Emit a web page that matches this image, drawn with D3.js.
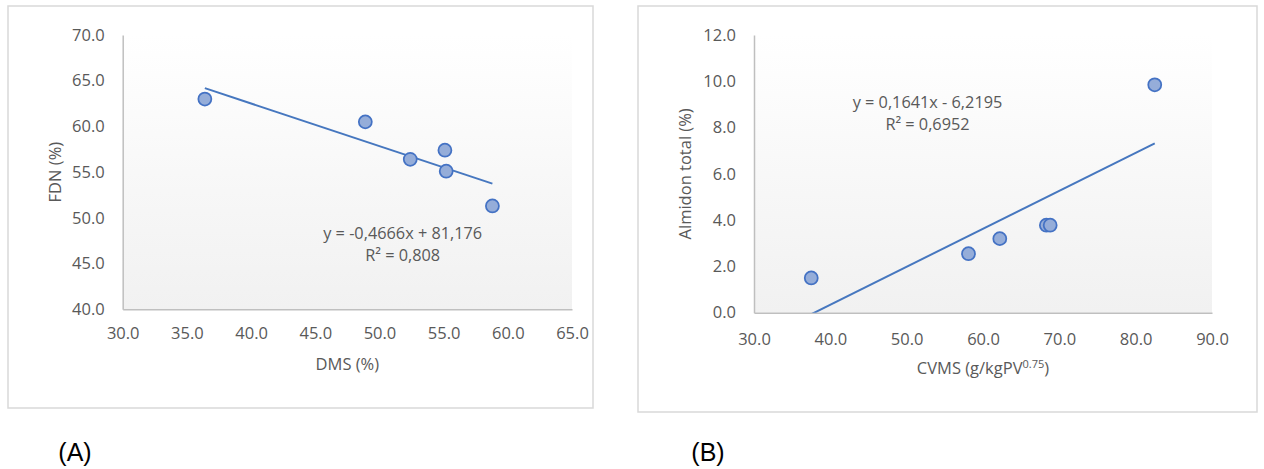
<!DOCTYPE html>
<html lang="es">
<head>
<meta charset="UTF-8">
<title>DMS / CVMS scatter</title>
<script src="https://d3js.org/d3.v7.min.js"></script>
<style>
  body { margin: 0; background: #fff; }
  .tick text { font-family: "Open Sans", sans-serif; font-size: 16.5px; fill: #595959; }
  .axis .domain { stroke: #bfbfbf; stroke-width: 1.5px; }
  .title { font-family: "Open Sans", sans-serif; font-size: 16.5px; fill: #595959; }
  .eq { font-family: "Open Sans", sans-serif; font-size: 16.3px; fill: #595959; }
  .tag { font-family: "Liberation Sans", Arial, sans-serif; font-size: 25px; fill: #000; }
</style>
</head>
<body>
<svg id="chart" width="1264" height="469"></svg>
<script>
// Panel A: DMS vs FDN
const dmsValues = [36.4, 48.9, 52.4, 55.1, 55.2, 58.8];
const fdnValues = [63.0, 60.5, 56.4, 57.4, 55.1, 51.3];
const trendA = [-0.4666, 81.176];           // slope, intercept
const xTicksA = [30, 35, 40, 45, 50, 55, 60, 65];
const yTicksA = [40, 45, 50, 55, 60, 65, 70];
const eqLinesA = ["y = -0,4666x + 81,176", "R² = 0,808"];

// Panel B: CVMS vs Almidon total
const cvmsValues = [37.5, 58.1, 62.2, 68.3, 68.8, 82.5];
const almidonValues = [1.5, 2.55, 3.2, 3.78, 3.78, 9.85];
const trendB = [0.1641, -6.2195];
const xTicksB = [30, 40, 50, 60, 70, 80, 90];
const yTicksB = [0, 2, 4, 6, 8, 10, 12];
const eqLinesB = ["y = 0,1641x - 6,2195", "R² = 0,6952"];

const svg = d3.select('#chart');

const defs = svg.append('defs');
const grad = defs.append('linearGradient')
    .attr('id', 'plotBg')
    .attr('x1', 0).attr('y1', 0).attr('x2', 0).attr('y2', 1);
grad.append('stop').attr('offset', '0%').attr('stop-color', '#ffffff');
grad.append('stop').attr('offset', '100%').attr('stop-color', '#f1f1f1');

function drawPanel(p) {
    const g = svg.append('g');

    // outer frame
    g.append('rect')
        .attr('x', p.box[0]).attr('y', p.box[1])
        .attr('width', p.box[2] - p.box[0]).attr('height', p.box[3] - p.box[1])
        .attr('fill', '#fff')
        .attr('stroke', '#d9d9d9')
        .attr('stroke-width', 1.5);

    const x = d3.scaleLinear().domain(d3.extent(p.xTicks)).range(p.xRange);
    const y = d3.scaleLinear().domain(d3.extent(p.yTicks)).range(p.yRange);

    // plot area
    g.append('rect')
        .attr('x', p.xRange[0]).attr('y', p.yRange[1])
        .attr('width', p.xRange[1] - p.xRange[0])
        .attr('height', p.yRange[0] - p.yRange[1])
        .attr('fill', 'url(#plotBg)');

    const clipId = 'clip' + p.id;
    defs.append('clipPath').attr('id', clipId)
        .append('rect')
        .attr('x', p.xRange[0]).attr('y', p.yRange[1])
        .attr('width', p.xRange[1] - p.xRange[0])
        .attr('height', p.yRange[0] - p.yRange[1]);

    // axes
    g.append('g')
        .attr('class', 'axis')
        .attr('transform', `translate(${p.xRange[0]},0)`)
        .call(d3.axisLeft(y).tickValues(p.yTicks).tickFormat(d3.format('.1f'))
            .tickSize(0).tickPadding(18));

    g.append('g')
        .attr('class', 'axis')
        .attr('transform', `translate(0,${p.yRange[0]})`)
        .call(d3.axisBottom(x).tickValues(p.xTicks).tickFormat(d3.format('.1f'))
            .tickSize(0).tickPadding(p.xPad));

    // trendline over the data range
    const xMin = d3.min(p.xs), xMax = d3.max(p.xs);
    g.append('line')
        .attr('clip-path', `url(#${clipId})`)
        .attr('x1', x(xMin)).attr('y1', y(p.trend[0] * xMin + p.trend[1]))
        .attr('x2', x(xMax)).attr('y2', y(p.trend[0] * xMax + p.trend[1]))
        .attr('stroke', '#4677bf')
        .attr('stroke-width', 2);

    // points
    g.selectAll('circle.pt')
        .data(p.xs.map((v, i) => [v, p.ys[i]]))
        .enter()
        .append('circle')
        .attr('class', 'pt')
        .attr('cx', d => x(d[0]))
        .attr('cy', d => y(d[1]))
        .attr('r', 6.5)
        .attr('fill', '#95add9')
        .attr('stroke', '#4472c4')
        .attr('stroke-width', 1.75);

    // equation
    g.selectAll('text.eq')
        .data(p.eq)
        .enter()
        .append('text')
        .attr('class', 'eq')
        .attr('text-anchor', 'middle')
        .attr('x', p.eqPos[0])
        .attr('y', (d, i) => p.eqPos[1] + i * 22)
        .text(d => d);

    // axis titles
    g.append('text')
        .attr('class', 'title')
        .attr('text-anchor', 'middle')
        .attr('transform', `translate(${p.yTitleX},${(p.yRange[0] + p.yRange[1]) / 2}) rotate(-90)`)
        .attr('dy', '0.35em')
        .text(p.yTitle);

    const xt = g.append('text')
        .attr('class', 'title')
        .attr('text-anchor', 'middle')
        .attr('x', (p.xRange[0] + p.xRange[1]) / 2)
        .attr('y', p.xTitleY);
    xt.append('tspan').text(p.xTitle[0]);
    if (p.xTitle[1]) {
        xt.append('tspan').attr('font-size', '11px').attr('dy', '-6').text(p.xTitle[1]);
        xt.append('tspan').attr('dy', '6').text(p.xTitle[2]);
    }

    // panel tag
    g.append('text')
        .attr('class', 'tag')
        .attr('text-anchor', 'middle')
        .attr('x', p.tagPos[0]).attr('y', p.tagPos[1])
        .text(p.tag);
}

drawPanel({
    id: 'A',
    box: [8, 6, 593, 408],
    xRange: [122.7, 572], yRange: [309.3, 35],
    xTicks: xTicksA, yTicks: yTicksA, xPad: 18,
    xs: dmsValues, ys: fdnValues, trend: trendA,
    eq: eqLinesA, eqPos: [402.7, 238.7],
    yTitle: 'FDN (%)', yTitleX: 55,
    xTitle: ['DMS (%)'], xTitleY: 370,
    tag: '(A)', tagPos: [75, 461]
});

drawPanel({
    id: 'B',
    box: [638, 6, 1257, 412],
    xRange: [754, 1212], yRange: [312.7, 35],
    xTicks: xTicksB, yTicks: yTicksB, xPad: 20.5,
    xs: cvmsValues, ys: almidonValues, trend: trendB,
    eq: eqLinesB, eqPos: [927.5, 108.4],
    yTitle: 'Almidon total (%)', yTitleX: 685,
    xTitle: ['CVMS (g/kgPV', '0.75', ')'], xTitleY: 374,
    tag: '(B)', tagPos: [708, 461]
});
</script>
</body>
</html>
